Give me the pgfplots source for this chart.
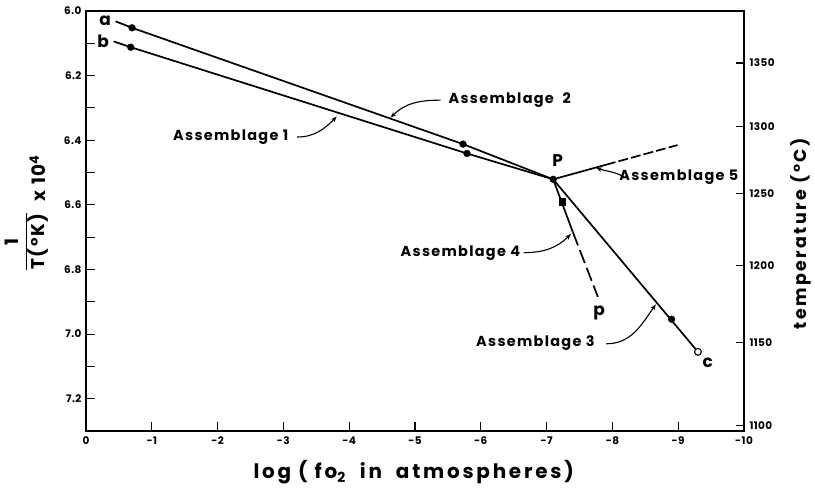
\documentclass[border=0pt]{standalone}
\usepackage{fontspec}
\setmainfont{Poppins}[LetterSpace=4]
\newfontfamily\spaced{Poppins}[LetterSpace=14]
\newfontfamily\lbl{Poppins}[LetterSpace=9]
\usepackage{pgfplots}
\pgfplotsset{compat=1.18}
\usetikzlibrary{arrows.meta}
\begin{document}
\begin{tikzpicture}[font=\bfseries]
\begin{axis}[name=ax, scale only axis, width=658bp, height=420bp,
  xmin=-10, xmax=0, x dir=reverse, ymin=6.0, ymax=7.3, y dir=reverse,
  clip=false,
  xtick={0,-1,...,-10},
  xticklabels={0,-1,-2,-3,-4,-5,-6,-7,-8,-9,-10},
  ytick={6.0,6.2,6.4,6.6,6.8,7.0,7.2},
  yticklabels={6.0,6.2,6.4,6.6,6.8,7.0,7.2},
  minor ytick={6.1,6.3,6.5,6.7,6.9,7.1},
  xtick pos=bottom, ytick pos=left, tick align=inside,
  major tick length=9bp, minor tick length=9bp,
  tick style={black, line width=1.1bp},
  axis line style={line width=1.3bp},
  tick label style={font=\bfseries\fontsize{10.5}{11}\selectfont},
  xticklabel style={yshift=-2bp},
  yticklabel style={xshift=-1bp},
]
% line a
\addplot[black, line width=1.7bp] coordinates {(-0.45,6.032) (-0.70,6.052) (-5.73,6.412) (-7.10,6.521)};
% line b
\addplot[black, line width=1.7bp] coordinates {(-0.42,6.094) (-0.68,6.112) (-5.79,6.441) (-7.10,6.521)};
% assemblage 5
\addplot[black, line width=1.7bp] coordinates {(-7.10,6.521) (-7.90,6.476)};
\addplot[black, line width=1.7bp, dash pattern=on 10bp off 3bp] coordinates {(-7.90,6.476) (-8.99,6.415)};
% assemblage 4
\addplot[black, line width=1.7bp] coordinates {(-7.10,6.521) (-7.40,6.685)};
\addplot[black, line width=1.7bp, dash pattern=on 14bp off 5bp] coordinates {(-7.40,6.685) (-7.78,6.885)};
% assemblage 3
\addplot[black, line width=1.7bp] coordinates {(-7.10,6.521) (-9.30,7.055)};
% markers
\addplot[only marks, mark=*, mark size=3.4bp, black] coordinates {(-0.70,6.052) (-0.68,6.112) (-5.73,6.412) (-5.79,6.441) (-7.10,6.521) (-8.90,6.954)};
\addplot[only marks, mark=square*, mark size=3.1bp, black] coordinates {(-7.24,6.590)};
\addplot[only marks, mark=*, mark size=3.4bp, mark options={fill=white, draw=black, line width=1.1bp}] coordinates {(-9.30,7.055)};
% letters
\node[font=\bfseries\fontsize{17}{17}\selectfont] at (axis cs:-0.29,6.030) {a};
\node[font=\bfseries\fontsize{17}{17}\selectfont] at (axis cs:-0.26,6.095) {b};
\node[font=\bfseries\fontsize{17}{17}\selectfont] at (axis cs:-7.17,6.463) {P};
\node[font=\bfseries\fontsize{17}{17}\selectfont] at (axis cs:-7.80,6.935) {p};
\node[font=\bfseries\fontsize{17}{17}\selectfont] at (axis cs:-9.45,7.088) {c};
% assemblage labels
\begin{scope}[every node/.style={font=\lbl\bfseries\fontsize{14.5}{15}\selectfont}]
\node at (axis cs:-2.20,6.389) {Assemblage 1};
\node at (axis cs:-6.44,6.276) {Assemblage\ \ 2};
\node at (axis cs:-9.01,6.513) {Assemblage 5};
\node at (axis cs:-5.69,6.749) {Assemblage 4};
\node at (axis cs:-6.83,7.029) {Assemblage 3};
\end{scope}
\begin{scope}[line width=1.1bp, -{Stealth[length=6bp,width=4.5bp]}]
\draw (axis cs:-3.21,6.390) to[out=0, in=-135] (axis cs:-3.81,6.327);
\draw (axis cs:-5.39,6.276) to[out=180, in=45] (axis cs:-4.63,6.330);
\draw (axis cs:-8.17,6.513) to[out=150, in=-20] (axis cs:-7.75,6.485);
\draw (axis cs:-6.65,6.748) to[out=0, in=-135] (axis cs:-7.37,6.690);
\draw (axis cs:-7.91,7.030) to[out=0, in=-125] (axis cs:-8.66,6.908);
\end{scope}
% axis labels
\node[font=\spaced\bfseries\fontsize{20}{20}\selectfont] at (axis cs:-4.98,7.428) {log ( fo\textsubscript{2} \ in \ atmospheres)};
\node[rotate=90, font=\lbl\bfseries\fontsize{18.5}{19}\selectfont] at (axis cs:0.90,6.625)
  {$\displaystyle\frac{\mbox{\bfseries 1}}{\mbox{\bfseries T(°K)}}$\ \ \raisebox{-0.8em}{x 10\textsuperscript{4}}};
\end{axis}
\begin{axis}[scale only axis, width=658bp, height=420bp,
  xmin=-10, xmax=0, x dir=reverse, ymin=6.0, ymax=7.3, y dir=reverse,
  axis x line=none, axis y line*=right, tick align=inside,
  ytick={6.1609,6.3567,6.5654,6.7882,7.0267,7.2825},
  yticklabels={1350,1300,1250,1200,1150,1100},
  major tick length=8bp,
  tick style={black, line width=1.1bp},
  axis line style={line width=1.3bp},
  tick label style={font=\bfseries\fontsize{10.5}{11}\selectfont},
  yticklabel style={xshift=2bp},
  clip=false,
]
\addplot[draw=none] coordinates {(-5,6.5)};
\node[rotate=90, font=\spaced\bfseries\fontsize{17.5}{18}\selectfont] at (axis cs:-10.86,6.690) {temperature (°C)};
\end{axis}
\pgfresetboundingbox
\path ([shift={(-86bp,-60bp)}]ax.south west) rectangle ([shift={(71bp,11bp)}]ax.north east);
\end{tikzpicture}
\end{document}
